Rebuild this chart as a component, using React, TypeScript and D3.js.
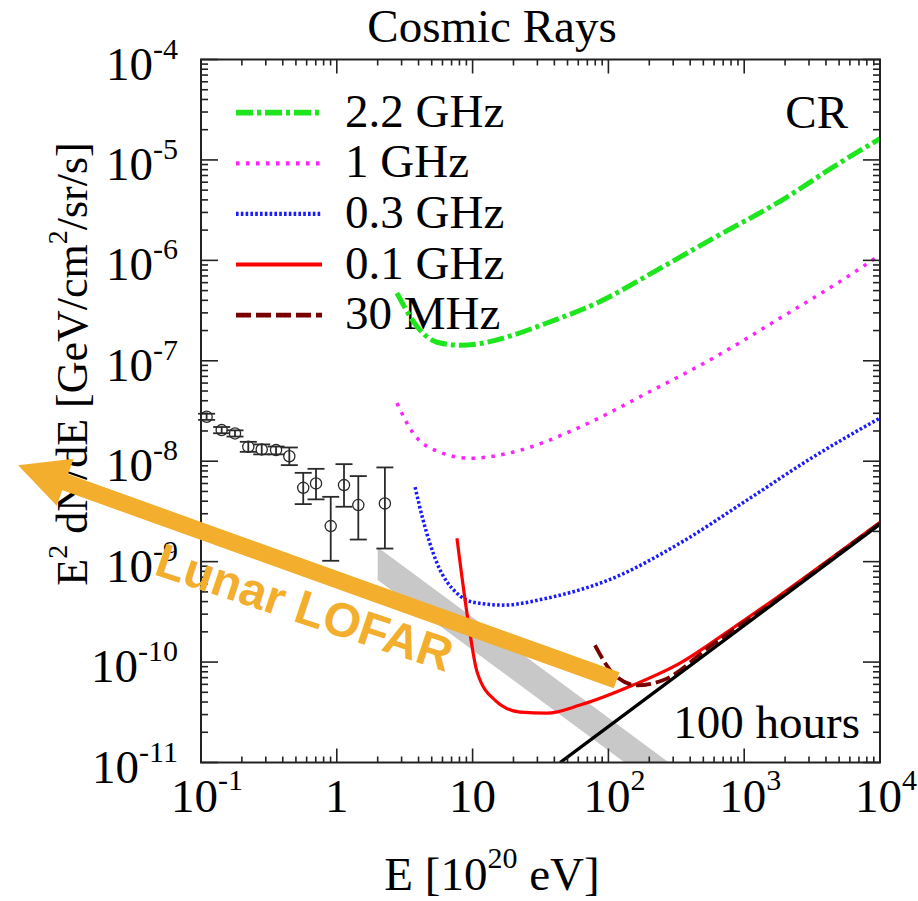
import React from "react";
import * as d3 from "d3";

// ---------- data (E in 1e20 eV, flux E^2 dN/dE in GeV/cm^2/sr/s) ----------
const ghz22E = [2.77, 4.10, 5.47, 8.07, 10.8, 19.8, 35.3, 82.4, 228, 560, 2065, 4510, 10000];
const ghz22F = [4.73e-7, 2.02e-7, 1.53e-7, 1.43e-7, 1.47e-7, 1.80e-7, 2.38e-7, 3.76e-7, 8.0e-7, 1.59e-6, 4.27e-6, 8.49e-6, 1.63e-5];

const ghz1E = [2.77, 3.64, 5.75, 9.57, 19.8, 61.8, 192, 589, 1837, 6324, 10000];
const ghz1F = [3.79e-8, 1.91e-8, 1.23e-8, 1.07e-8, 1.23e-8, 2.19e-8, 4.76e-8, 1.06e-7, 2.66e-7, 7.46e-7, 1.13e-6];

const ghz03E = [3.77, 4.32, 5.47, 7.67, 10.07, 16.7, 35.3, 108, 337, 1050, 3214, 10000];
const ghz03F = [5.52e-9, 2.59e-9, 9.66e-10, 4.85e-10, 3.95e-10, 3.69e-10, 4.33e-10, 6.84e-10, 1.53e-9, 4.10e-9, 1.10e-8, 2.69e-8];

const ghz01E = [7.67, 9.25, 10.8, 14.6, 22.3, 35.3, 61.8, 152, 337, 785, 1837, 4285, 10000];
const ghz01F = [1.71e-9, 2.62e-10, 7.94e-11, 4.18e-11, 3.18e-11, 3.10e-11, 3.73e-11, 5.90e-11, 9.77e-11, 2.08e-10, 4.63e-10, 1.06e-9, 2.47e-9];

const mhz30E = [79.6, 108, 163, 252, 589, 1837, 4285, 10000];
const mhz30F = [1.47e-10, 7.74e-11, 5.87e-11, 6.59e-11, 1.51e-10, 4.43e-10, 1.04e-9, 2.42e-9];

const hours100E = [44.1, 10000];
const hours100F = [1.0e-11, 2.36e-9];

const bandE = [2.0, 300];
const bandUpperF = [1.39e-9, 9.3e-12];
const bandLowerF = [6.55e-10, 4.4e-12];

const crE = [0.110, 0.142, 0.178, 0.223, 0.280, 0.357, 0.447, 0.566, 0.703, 0.902, 1.13, 1.44, 2.26];
const crF = [2.77e-8, 2.04e-8, 1.89e-8, 1.39e-8, 1.31e-8, 1.29e-8, 1.12e-8, 5.43e-9, 6.01e-9, 2.26e-9, 5.78e-9, 3.66e-9, 3.80e-9];
const crLo = [2.58e-8, 1.90e-8, 1.76e-8, 1.24e-8, 1.17e-8, 1.17e-8, 9.14e-9, 3.74e-9, 4.17e-9, 1.02e-9, 3.52e-9, 1.66e-9, 1.35e-9];
const crHi = [2.97e-8, 2.19e-8, 2.03e-8, 1.56e-8, 1.47e-8, 1.40e-8, 1.37e-8, 7.66e-9, 8.4e-9, 4.42e-9, 9.35e-9, 7.11e-9, 8.67e-9];

// annotation arrow (tail, tip) and label anchor, in data coordinates
const lofarArrowE = [115, 0.0045];
const lofarArrowF = [6.6e-11, 9.1e-9];
const lofarLabelE = 0.53;
const lofarLabelF = 2.45e-10;

const xTickExp = [-1, 0, 1, 2, 3, 4];
const xTickLabels = [["10", "-1"], ["1", ""], ["10", ""], ["10", "2"], ["10", "3"], ["10", "4"]];
const yTickExp = [-4, -5, -6, -7, -8, -9, -10, -11];

const legendLabels = ["2.2 GHz", "1 GHz", "0.3 GHz", "0.1 GHz", "30 MHz"];

// ---------- layout ----------
const W = 918, H = 901;
const L = 201, R = 880, T = 59.5, B = 762.5;
const serif = "'Liberation Serif', 'Times New Roman', serif";

export default function App() {
  const x = d3.scaleLog().domain([0.1, 1e4]).range([L, R]);
  const y = d3.scaleLog().domain([1e-11, 1e-4]).range([B, T]);

  const mk = (E: number[], F: number[]) =>
    d3.line<number>().x((_, i) => x(E[i])).y((_, i) => y(F[i])).curve(d3.curveMonotoneX)(E.map((_, i) => i)) || "";

  const series = [
    { E: ghz22E, F: ghz22F, color: "#1ee61e", width: 5, dash: "17,4,4,4" },
    { E: ghz1E, F: ghz1F, color: "#ff22ff", width: 3.5, dash: "3.5,6.5" },
    { E: ghz03E, F: ghz03F, color: "#1a1aff", width: 3.5, dash: "2.6,2.2" },
    { E: ghz01E, F: ghz01F, color: "#ff0000", width: 3.2, dash: "" },
    { E: mhz30E, F: mhz30F, color: "#7a0000", width: 3.8, dash: "15,5" },
  ];

  const bandPath = d3
    .area<number>()
    .x((_, i) => x(bandE[i]))
    .y0((_, i) => y(bandLowerF[i]))
    .y1((_, i) => y(bandUpperF[i]))(bandE.map((_, i) => i)) || "";

  // minor ticks
  const xMinor: number[] = [];
  for (let e = -1; e < 4; e++) for (let k = 2; k <= 9; k++) xMinor.push(k * Math.pow(10, e));
  const yMinor: number[] = [];
  for (let e = -11; e < -4; e++) for (let k = 2; k <= 9; k++) yMinor.push(k * Math.pow(10, e));

  // arrow geometry
  const tx = x(lofarArrowE[0]), ty = y(lofarArrowF[0]);
  const hx = x(lofarArrowE[1]), hy = y(lofarArrowF[1]);
  const ang = Math.atan2(hy - ty, hx - tx);
  const ux = Math.cos(ang), uy = Math.sin(ang);
  const headLen = 50, headHalf = 25, shaftW = 17;
  const bx = hx - ux * headLen, by = hy - uy * headLen;
  const headPts = [
    [hx, hy],
    [bx - uy * headHalf, by + ux * headHalf],
    [bx + uy * headHalf, by - ux * headHalf],
  ].map((p) => p.join(",")).join(" ");
  const textAngle = 18.5;

  const frame = "#222";

  return (
    <svg width={W} height={H} style={{ position: "absolute", left: 0, top: 0, background: "#fff" }}>
      <defs>
        <clipPath id="plot">
          <rect x={L} y={T} width={R - L} height={B - T} />
        </clipPath>
      </defs>

      {/* title */}
      <text x={492} y={42} textAnchor="middle" fontFamily={serif} fontSize={47}>
        Cosmic Rays
      </text>

      {/* y tick labels */}
      {yTickExp.map((e) => (
        <text key={e} x={178} y={y(Math.pow(10, e)) + 20} textAnchor="end" fontFamily={serif} fontSize={47}>
          10
          <tspan dy={-21} fontSize={30}>{String(e)}</tspan>
        </text>
      ))}

      {/* x tick labels */}
      {xTickExp.map((e, i) => (
        <text key={e} x={x(Math.pow(10, e)) + (xTickLabels[i][1] ? 6 : 0)} y={812} textAnchor="middle" fontFamily={serif} fontSize={47}>
          {xTickLabels[i][0]}
          {xTickLabels[i][1] ? <tspan dy={-22} fontSize={30}>{xTickLabels[i][1]}</tspan> : null}
        </text>
      ))}

      {/* axis titles */}
      <text x={492} y={890} textAnchor="middle" fontFamily={serif} fontSize={47}>
        E [10<tspan dy={-22} fontSize={30}>20</tspan><tspan dy={22}> eV]</tspan>
      </text>
      <text transform={`translate(87,${(148 + 580) / 2}) rotate(-90)`} textAnchor="middle" fontFamily={serif} fontSize={44}>
        E<tspan dy={-20} fontSize={28}>2</tspan><tspan dy={20}> dN/dE [GeV/cm</tspan><tspan dy={-20} fontSize={28}>2</tspan><tspan dy={20}>/sr/s]</tspan>
      </text>

      {/* legend */}
      {series.map((s, i) => (
        <g key={i}>
          <line x1={236} x2={322} y1={112.7 + i * 50.6} y2={112.7 + i * 50.6} stroke={s.color} strokeWidth={s.width + 0.8} strokeDasharray={s.dash} />
          <text x={345} y={126.7 + i * 50.6} fontFamily={serif} fontSize={47}>{legendLabels[i]}</text>
        </g>
      ))}
      <text x={848} y={128} textAnchor="end" fontFamily={serif} fontSize={47}>CR</text>
      <text x={860} y={738} textAnchor="end" fontFamily={serif} fontSize={47}>100 hours</text>

      <g clipPath="url(#plot)">
        <path d={bandPath} fill="#c8c8c8" />
        {series.map((s, i) => (
          <path key={i} d={mk(s.E, s.F)} fill="none" stroke={s.color} strokeWidth={s.width} strokeDasharray={s.dash} />
        ))}
        <line x1={x(hours100E[0])} y1={y(hours100F[0])} x2={x(hours100E[1])} y2={y(hours100F[1])} stroke="#000" strokeWidth={3.4} />
      </g>

      {/* data points */}
      {crE.map((e, i) => (
        <g key={i} stroke="#2a2a2a" strokeWidth={1.8} fill="none">
          <line x1={x(e)} x2={x(e)} y1={y(crLo[i])} y2={y(crHi[i])} />
          <line x1={x(e) - 8.5} x2={x(e) + 8.5} y1={y(crLo[i])} y2={y(crLo[i])} />
          <line x1={x(e) - 8.5} x2={x(e) + 8.5} y1={y(crHi[i])} y2={y(crHi[i])} />
          <circle cx={x(e)} cy={y(crF[i])} r={5.6} strokeWidth={1.3} fill="none" />
        </g>
      ))}

      {/* frame and ticks */}
      <rect x={L} y={T} width={R - L} height={B - T} fill="none" stroke={frame} strokeWidth={2} />
      <g stroke={frame} strokeWidth={1.6}>
        {xTickExp.map((e) => (
          <g key={e}>
            <line x1={x(Math.pow(10, e))} x2={x(Math.pow(10, e))} y1={B} y2={B - 14} />
            <line x1={x(Math.pow(10, e))} x2={x(Math.pow(10, e))} y1={T} y2={T + 14} />
          </g>
        ))}
        {xMinor.map((v, i) => (
          <g key={i}>
            <line x1={x(v)} x2={x(v)} y1={B} y2={B - 6} />
            <line x1={x(v)} x2={x(v)} y1={T} y2={T + 6} />
          </g>
        ))}
        {yTickExp.map((e) => (
          <g key={e}>
            <line x1={L} x2={L + 17} y1={y(Math.pow(10, e))} y2={y(Math.pow(10, e))} />
            <line x1={R} x2={R - 17} y1={y(Math.pow(10, e))} y2={y(Math.pow(10, e))} />
          </g>
        ))}
        {yMinor.map((v, i) => (
          <g key={i}>
            <line x1={L} x2={L + 7} y1={y(v)} y2={y(v)} />
            <line x1={R} x2={R - 7} y1={y(v)} y2={y(v)} />
          </g>
        ))}
      </g>

      {/* Lunar LOFAR annotation */}
      <line x1={tx} y1={ty} x2={bx + ux * 2} y2={by + uy * 2} stroke="#f2ae2c" strokeWidth={shaftW} />
      <polygon points={headPts} fill="#f2ae2c" />
      <text
        transform={`translate(${x(lofarLabelE)},${y(lofarLabelF)}) rotate(${textAngle})`}
        textAnchor="middle"
        fontFamily="'Liberation Sans', Arial, sans-serif"
        fontWeight="bold"
        fontSize={48}
        fill="#f2ae2c"
      >
        Lunar LOFAR
      </text>
    </svg>
  );
}
